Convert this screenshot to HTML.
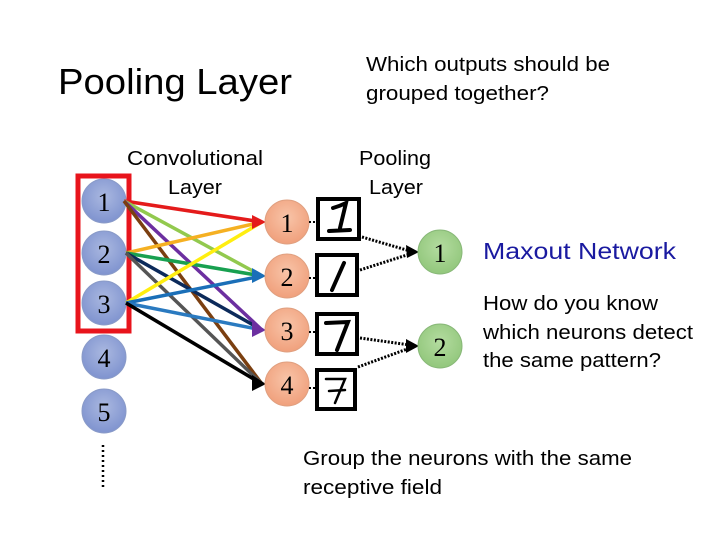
<!DOCTYPE html>
<html><head><meta charset="utf-8"><style>
html,body{margin:0;padding:0;background:#fff;}
svg{display:block;}
text{font-family:"Liberation Sans",sans-serif;}
.n text{font-family:"Liberation Serif",serif;font-size:26px;}
</style></head><body>
<svg width="720" height="540" viewBox="0 0 720 540" xmlns="http://www.w3.org/2000/svg">
<defs>
<radialGradient id="gb" cx="50%" cy="40%" r="60%"><stop offset="0" stop-color="#aab8e0"/><stop offset="1" stop-color="#7f93cf"/></radialGradient>
<radialGradient id="go" cx="50%" cy="40%" r="60%"><stop offset="0" stop-color="#f8c4a8"/><stop offset="1" stop-color="#f0a07c"/></radialGradient>
<radialGradient id="gg" cx="50%" cy="40%" r="60%"><stop offset="0" stop-color="#b4dca0"/><stop offset="1" stop-color="#92c77c"/></radialGradient>
</defs>
<text x="58" y="94" font-size="36" textLength="234" lengthAdjust="spacingAndGlyphs">Pooling Layer</text>
<text x="366" y="71" font-size="20" textLength="244" lengthAdjust="spacingAndGlyphs">Which outputs should be</text>
<text x="366" y="100" font-size="20" textLength="183" lengthAdjust="spacingAndGlyphs">grouped together?</text>
<text x="127" y="165" font-size="20" textLength="136" lengthAdjust="spacingAndGlyphs">Convolutional</text>
<text x="168" y="194" font-size="20" textLength="54" lengthAdjust="spacingAndGlyphs">Layer</text>
<text x="359" y="165" font-size="20" textLength="72" lengthAdjust="spacingAndGlyphs">Pooling</text>
<text x="369" y="194" font-size="20" textLength="54" lengthAdjust="spacingAndGlyphs">Layer</text>
<text x="483" y="259" font-size="23" fill="#1a1aa0" textLength="193" lengthAdjust="spacingAndGlyphs">Maxout Network</text>
<text x="483" y="310" font-size="20" textLength="175" lengthAdjust="spacingAndGlyphs">How do you know</text>
<text x="483" y="339" font-size="20" textLength="210" lengthAdjust="spacingAndGlyphs">which neurons detect</text>
<text x="483" y="367" font-size="20" textLength="178" lengthAdjust="spacingAndGlyphs">the same pattern?</text>
<text x="303" y="465" font-size="20" textLength="329" lengthAdjust="spacingAndGlyphs">Group the neurons with the same</text>
<text x="303" y="494" font-size="20" textLength="139" lengthAdjust="spacingAndGlyphs">receptive field</text>

<g stroke="#8a9bc8" stroke-width="1" fill="url(#gb)">
<circle cx="104" cy="201" r="22"/><circle cx="104" cy="253" r="22"/><circle cx="104" cy="303" r="22"/><circle cx="104" cy="357" r="22"/><circle cx="104" cy="411" r="22"/>
</g>
<g class="n" text-anchor="middle">
<text x="104" y="211">1</text><text x="104" y="263">2</text><text x="104" y="313">3</text><text x="104" y="367">4</text><text x="104" y="421">5</text>
</g>
<rect x="78" y="176" width="51" height="155" fill="none" stroke="#e8141c" stroke-width="5"/>
<line x1="103" y1="445" x2="103" y2="487" stroke="#000" stroke-width="2.5" stroke-dasharray="2 3"/>

<g stroke-width="3.5" fill="none">
<line x1="124" y1="201" x2="262" y2="222" stroke="#e41b1b"/>
<line x1="124" y1="201" x2="262" y2="276" stroke="#92c94e"/>
<line x1="124" y1="201" x2="262" y2="330" stroke="#6c2fa0"/>
<line x1="124" y1="201" x2="262" y2="384" stroke="#7b3f10"/>
<line x1="126" y1="253" x2="262" y2="222" stroke="#f5b022"/>
<line x1="126" y1="253" x2="262" y2="276" stroke="#18a050"/>
<line x1="126" y1="253" x2="262" y2="330" stroke="#0c2a5a"/>
<line x1="126" y1="253" x2="262" y2="384" stroke="#555"/>
<line x1="126" y1="303" x2="262" y2="222" stroke="#ffee10"/>
<line x1="126" y1="303" x2="262" y2="276" stroke="#1a6fb8"/>
<line x1="126" y1="303" x2="262" y2="330" stroke="#2a7ac0"/>
<line x1="126" y1="303" x2="262" y2="384" stroke="#000"/>
</g>
<g>
<polygon points="266,222 252,215 252,229" fill="#e41b1b"/>
<polygon points="266,276 252,268 252,283" fill="#1a6fb8"/>
<polygon points="266,330 252,322 252,337" fill="#6c2fa0"/>
<polygon points="266,384 252,375 252,391" fill="#000"/>
</g>

<g stroke="#e0a080" stroke-width="1" fill="url(#go)">
<circle cx="287" cy="222" r="22"/><circle cx="287" cy="276" r="22"/><circle cx="287" cy="330" r="22"/><circle cx="287" cy="384" r="22"/>
</g>
<g class="n" text-anchor="middle">
<text x="287" y="232">1</text><text x="287" y="286">2</text><text x="287" y="340">3</text><text x="287" y="394">4</text>
</g>

<g fill="#fff" stroke="#000" stroke-width="4">
<rect x="318" y="199" width="41" height="40"/>
<rect x="317" y="255" width="40" height="40"/>
<rect x="317" y="314" width="40" height="40"/>
<rect x="317" y="370" width="38" height="39"/>
</g>
<g stroke="#000" stroke-width="2" stroke-dasharray="2 2">
<line x1="309" y1="222" x2="317" y2="222"/><line x1="309" y1="278" x2="316" y2="278"/>
<line x1="309" y1="332" x2="316" y2="332"/><line x1="309" y1="388" x2="316" y2="388"/>
</g>
<g fill="none" stroke="#000" stroke-linecap="round">
<path d="M333 208 Q340 206 346 203 L340 228 M329 231 L350 230" stroke-width="4"/>
<path d="M344 263 L332 290" stroke-width="4"/>
<path d="M326 323 L348 322 L337 350" stroke-width="4"/>
<path d="M326 379 L345 379 L335 403 M329 391 L345 390" stroke-width="2.5"/>
</g>

<g stroke="#000" stroke-width="3" stroke-dasharray="2 1.5">
<line x1="362" y1="237" x2="410" y2="251"/>
<line x1="360" y1="270" x2="410" y2="254"/>
<line x1="360" y1="338" x2="410" y2="345"/>
<line x1="358" y1="367" x2="410" y2="348"/>
</g>
<polygon points="419,252 406,245 407,258" fill="#000"/>
<polygon points="419,346 406,339 406,353" fill="#000"/>

<g stroke="#88b878" stroke-width="1" fill="url(#gg)">
<circle cx="440" cy="252" r="22"/><circle cx="440" cy="346" r="22"/>
</g>
<g class="n" text-anchor="middle">
<text x="440" y="262">1</text><text x="440" y="356">2</text>
</g>
</svg>
</body></html>
